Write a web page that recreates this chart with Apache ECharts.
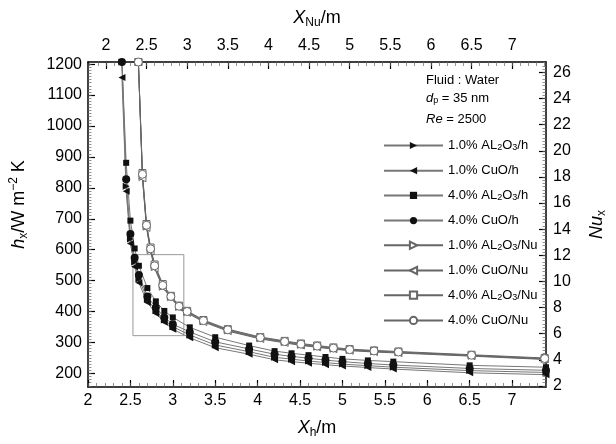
<!DOCTYPE html>
<html><head><meta charset="utf-8">
<script src="https://cdn.jsdelivr.net/npm/echarts@6/dist/echarts.min.js"></script>
<style>html,body{margin:0;padding:0;background:#fff}#c{width:616px;height:444px}</style>
</head><body><div id="c"></div>
<script>
// ---- data ----
const xPositions = [2.4, 2.45, 2.5, 2.55, 2.6, 2.7, 2.8, 2.9, 3.0, 3.2, 3.5, 3.9, 4.2, 4.4, 4.6, 4.8, 5.0, 5.3, 5.6, 6.5, 7.4];
// heat transfer coefficient h_x (left axis, bottom X_h axis)
const hAl1 = [1207, 805, 635, 560, 505, 440, 403, 373, 351, 324, 292, 270, 252, 246, 240, 235, 230, 225, 220, 209, 203];
const hCuO1 = [1157, 789, 620, 545, 493, 429, 394, 365, 343, 315, 283, 262, 244, 238, 233, 228, 224, 219, 214, 202, 196];
const hAl4 = [1207, 881, 694, 604, 548, 476, 433, 402, 381, 349, 317, 290, 272, 265, 259, 253, 247, 242, 238, 226, 220];
const hCuO4 = [1207, 828, 651, 574, 518, 449, 413, 381, 359, 334, 302, 279, 262, 255, 249, 243, 238, 232, 227, 216, 210];
// Nusselt number Nu_x (right axis, top X_Nu axis)
const nuAl1 = [26.8, 18.0, 14.2, 12.4, 11.1, 9.6, 8.8, 8.05, 7.65, 6.95, 6.25, 5.65, 5.35, 5.15, 5.0, 4.85, 4.74, 4.64, 4.56, 4.31, 4.06];
const nuCuO1 = [26.8, 17.9, 14.1, 12.3, 11.0, 9.55, 8.75, 8.0, 7.6, 6.9, 6.2, 5.6, 5.3, 5.1, 4.96, 4.82, 4.7, 4.6, 4.52, 4.28, 4.03];
const nuAl4 = [26.8, 18.3, 14.4, 12.6, 11.3, 9.8, 8.9, 8.15, 7.75, 7.05, 6.35, 5.75, 5.45, 5.25, 5.1, 4.95, 4.82, 4.72, 4.64, 4.39, 4.14];
const nuCuO4 = [26.8, 18.2, 14.3, 12.5, 11.2, 9.7, 8.85, 8.1, 7.7, 7.0, 6.3, 5.7, 5.4, 5.2, 5.05, 4.9, 4.78, 4.68, 4.6, 4.35, 4.1];
// inset rectangle (data coordinates, bottom/left axes)
const insetX = [2.53, 3.13, 3.13, 2.53, 2.53];
const insetY = [322, 322, 584, 584, 322];
// tick labels
const bottomTicks = [2, 2.5, 3, 3.5, 4, 4.5, 5, 5.5, 6, 6.5, 7];
const topTicks = [2, 2.5, 3, 3.5, 4, 4.5, 5, 5.5, 6, 6.5, 7];
const leftTicks = [200, 300, 400, 500, 600, 700, 800, 900, 1000, 1100, 1200];
const rightTicks = [2, 4, 6, 8, 10, 12, 14, 16, 18, 20, 22, 24, 26];
const seriesNames = ['1.0% AL2O3/h', '1.0% CuO/h', '4.0% AL2O3/h', '4.0% CuO/h',
  '1.0% AL2O3/Nu', '1.0% CuO/Nu', '4.0% AL2O3/Nu', '4.0% CuO/Nu'];

// ---- build ----
const FONT = 'Liberation Sans';
function minor(a, b, step) { const r = []; for (let v = a; v <= b + 1e-9; v += step) r.push(+v.toFixed(4)); return r; }
const pairs = ys => xPositions.map((x, i) => [x, ys[i]]);
const plain = v => String(v);

const titleRich = {
  i: { fontSize: 18, fontStyle: 'italic', fontFamily: FONT, color: '#000', lineHeight: 22 },
  n: { fontSize: 18, fontFamily: FONT, color: '#000', lineHeight: 22 },
  sub: { fontSize: 12, fontFamily: FONT, color: '#000', verticalAlign: 'bottom', lineHeight: 12 },
  sup: { fontSize: 12, fontFamily: FONT, color: '#000', verticalAlign: 'top', lineHeight: 12 }
};
const lab = { fontSize: 16, color: '#000', fontFamily: FONT, formatter: plain };

function mainAxis(extra) {
  return Object.assign({
    type: 'value', splitLine: { show: false },
    axisLine: { show: true, onZero: false, lineStyle: { color: '#000', width: 1.5 } }
  }, extra);
}
function ticks(vals) { return { inside: true, length: 7, customValues: vals, lineStyle: { color: '#000', width: 1.2 } }; }
function labels(vals, margin) { return Object.assign({ margin, customValues: vals }, lab); }
function minorAxis(extra, vals, len) {
  return Object.assign({
    type: 'value', splitLine: { show: false },
    axisLine: { show: false, onZero: false },
    axisTick: { inside: true, length: len || 3.5, customValues: vals, lineStyle: { color: '#666', width: 0.7 } },
    axisLabel: { show: false }
  }, extra);
}

const hStyle = (sym, rot, size) => ({
  type: 'line', xAxisIndex: 0, yAxisIndex: 0, symbol: sym, symbolSize: size, symbolRotate: rot,
  itemStyle: { color: '#111' }, lineStyle: { color: '#777', width: 1 }, z: 3
});
const nuStyle = (sym, rot, size) => ({
  type: 'line', xAxisIndex: 1, yAxisIndex: 1, symbol: sym, symbolSize: size, symbolRotate: rot,
  itemStyle: { color: '#fff', borderColor: '#666', borderWidth: 1 }, lineStyle: { color: '#666', width: 1 }, z: 2
});

const series = [
  Object.assign(hStyle('triangle', -90, 7), { name: seriesNames[0], data: pairs(hAl1) }),
  Object.assign(hStyle('triangle', 90, 7), { name: seriesNames[1], data: pairs(hCuO1) }),
  Object.assign(hStyle('rect', 0, 6), { name: seriesNames[2], data: pairs(hAl4) }),
  Object.assign(hStyle('circle', 0, 8), { name: seriesNames[3], data: pairs(hCuO4) }),
  Object.assign(nuStyle('triangle', -90, 7), { name: seriesNames[4], data: pairs(nuAl1) }),
  Object.assign(nuStyle('triangle', 90, 7), { name: seriesNames[5], data: pairs(nuCuO1) }),
  Object.assign(nuStyle('rect', 0, 7), { name: seriesNames[6], data: pairs(nuAl4) }),
  Object.assign(nuStyle('circle', 0, 8), { name: seriesNames[7], data: pairs(nuCuO4) }),
  { type: 'line', name: 'inset', xAxisIndex: 0, yAxisIndex: 0, symbol: 'none', silent: true,
    data: insetX.map((x, i) => [x, insetY[i]]), lineStyle: { color: '#999', width: 1 }, z: 1 }
];

const legendRich = {
  t: { fontSize: 13, fontFamily: FONT, color: '#000', lineHeight: 14 },
  s: { fontSize: 9, fontFamily: FONT, color: '#000', verticalAlign: 'bottom', lineHeight: 9 }
};

const chart = echarts.init(document.getElementById('c'), null, { renderer: 'canvas' });
chart.setOption({
  animation: false,
  backgroundColor: '#fff',
  grid: { left: 77, right: 51, top: 62, bottom: 50, containLabel: false },
  xAxis: [
    mainAxis({ position: 'bottom', min: 2, max: 7.4, axisTick: ticks(bottomTicks), axisLabel: labels(bottomTicks, 6),
      name: '{i|X}{sub|h}{n|/m}', nameLocation: 'middle', nameGap: 30, nameTextStyle: { rich: titleRich } }),
    mainAxis({ position: 'top', min: 1.78, max: 7.416, axisTick: ticks(topTicks), axisLabel: labels(topTicks, 8),
      name: '{i|X}{sub|Nu}{n|/m}', nameLocation: 'middle', nameGap: 33, nameTextStyle: { rich: titleRich } }),
    minorAxis({ position: 'bottom', min: 2, max: 7.4 }, minor(2, 7.4, 0.1), 4),
    minorAxis({ position: 'top', min: 1.78, max: 7.416 }, minor(1.8, 7.4, 0.1), 4)
  ],
  yAxis: [
    mainAxis({ position: 'left', min: 156, max: 1207, axisTick: ticks(leftTicks), axisLabel: labels(leftTicks, 6),
      name: '{i|h}{sub|x}{n|/W m}{sup|−2}{n| K}', nameLocation: 'middle', nameGap: 58,
      nameTextStyle: { rich: titleRich, padding: [0, 0, 0, 40] } }),
    mainAxis({ position: 'right', min: 1.92, max: 26.8, axisTick: ticks(rightTicks), axisLabel: labels(rightTicks, 7),
      name: '{i|Nu}{sub|x}', nameLocation: 'middle', nameGap: 40, nameTextStyle: { rich: titleRich } }),
    minorAxis({ position: 'left', min: 156, max: 1207 }, minor(160, 1200, 10), 3.5),
    minorAxis({ position: 'right', min: 1.92, max: 26.8 }, minor(2, 26.75, 0.25), 3.5)
  ],
  legend: {
    data: seriesNames, orient: 'vertical', left: 378, top: 134,
    itemWidth: 59, itemHeight: 9, itemGap: 11.7,
    textStyle: { fontSize: 13, fontFamily: FONT, color: '#000', rich: legendRich },
    formatter: n => {
      const m = n.match(/^(\S+) (AL2O3|CuO)\/(h|Nu)$/);
      const mat = m[2] === 'AL2O3' ? '{t|AL}{s|2}{t|O}{s|3}' : '{t|CuO}';
      return '{t|' + m[1] + ' }' + mat + '{t|/' + m[3] + '}';
    }
  },
  graphic: [
    { type: 'text', left: 426, top: 74, style: { text: 'Fluid : Water', font: '13px "Liberation Sans"', fill: '#000' } },
    { type: 'text', left: 426, top: 92, style: { text: '{i|d}{s|p}{t| = 35 nm}', rich: {
      i: { fontSize: 13, fontStyle: 'italic', fontFamily: FONT, fill: '#000', lineHeight: 14 },
      t: { fontSize: 13, fontFamily: FONT, fill: '#000', lineHeight: 14 },
      s: { fontSize: 9, fontFamily: FONT, fill: '#000', verticalAlign: 'bottom', lineHeight: 9 } } } },
    { type: 'text', left: 426, top: 113, style: { text: '{i|Re}{t| = 2500}', rich: {
      i: { fontSize: 13, fontStyle: 'italic', fontFamily: FONT, fill: '#000' },
      t: { fontSize: 13, fontFamily: FONT, fill: '#000' } } } }
  ],
  series
});
</script></body></html>
